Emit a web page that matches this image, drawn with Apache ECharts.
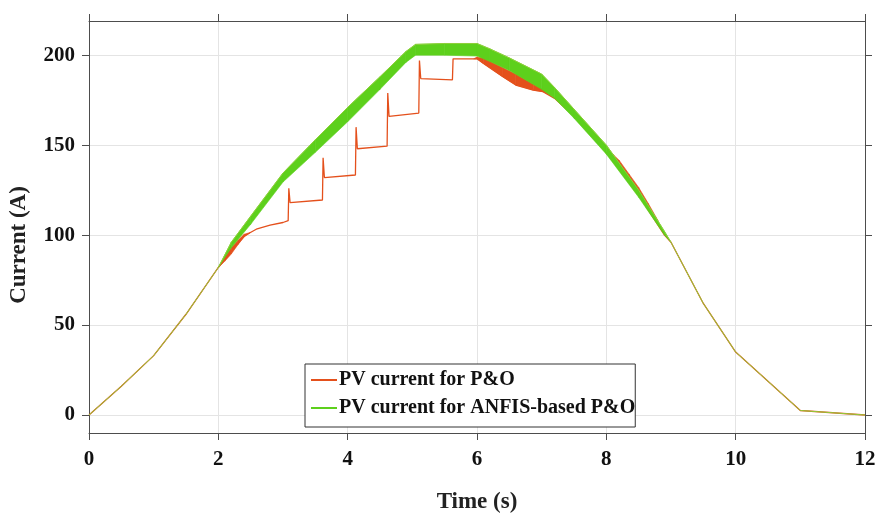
<!DOCTYPE html>
<html><head><meta charset="utf-8">
<script src="https://cdn.jsdelivr.net/npm/echarts@6/dist/echarts.min.js"></script>
<style>html,body{margin:0;padding:0;background:#fff}#c{width:882px;height:519px}</style>
</head><body><div id="c"></div>
<script>
// P&O PV current (thin line with step spikes)
const poTime =    [0, 0.5, 1, 1.5, 2.0, 2.2, 2.4, 2.6, 2.8, 3.0, 3.08, 3.09, 3.11, 3.61, 3.62, 3.64, 4.12, 4.13, 4.15, 4.61, 4.62, 4.64, 5.10, 5.11, 5.13, 5.62, 5.63, 5.65, 6.0, 6.1, 6.4, 6.6, 6.87, 7.02, 7.2, 7.5, 8.0, 8.5, 8.9, 9.0, 9.5, 10, 11, 12];
const poCurrent = [0, 16, 33, 56, 82, 91, 99.5, 103.5, 105.5, 107, 108, 126, 118, 119.5, 143, 132, 133.4, 160, 148, 149.4, 179, 166, 167.8, 197, 187, 186.3, 198, 197.5, 198, 195.4, 188, 183.4, 180.6, 179.7, 176, 166, 146, 122, 100, 96, 62, 35, 2.5, 0];
// P&O oscillation envelope (thick red regions)
const poBandTime =  [2.0, 2.1, 2.2, 2.3, 2.4, 2.5, 5.95, 6.0, 6.1, 6.4, 6.6, 6.87, 7.02, 7.15, 8.1, 8.2, 8.35, 8.5, 8.65, 8.8];
const poBandLower = [82, 85.5, 89.5, 94.5, 99, 101.5, 198, 198, 195.4, 188, 183.4, 180.6, 179.7, 177.5, 145, 139, 131, 123, 114.5, 108];
const poBandUpper = [82, 88, 93, 97, 100.5, 101.5, 198, 199, 198.5, 193, 189.5, 184, 181, 177.5, 145, 141.5, 134, 126.5, 117.5, 108];
// ANFIS-based P&O envelope
const anfisTime =  [0, 0.5, 1.0, 1.5, 2.0, 2.2, 2.5, 3.0, 3.5, 4.0, 4.5, 4.9, 5.05, 5.5, 6.0, 6.2, 6.5, 7.0, 7.2, 7.5, 8.0, 8.5, 8.9, 9.0, 9.5, 10.0, 11.0, 12.0];
const anfisLower = [0, 16, 33, 56, 82, 93, 106, 129.5, 146, 163, 181, 196, 200, 200, 199.5, 196.5, 191.5, 181, 176, 165, 145, 121, 100, 96, 62, 35, 2.5, 0];
const anfisUpper = [0, 16, 33, 56, 82, 96, 110.5, 134.5, 153, 171, 188, 202, 206, 206.5, 206.5, 203.5, 198.5, 189.5, 182, 170, 150, 125, 102, 96, 62, 35, 2.5, 0];
// Axis ticks
const yTicks = [0, 50, 100, 150, 200];

const RED = '#e4501c', GREEN = '#5dd01c';
const SERIF = '"Liberation Serif","Times New Roman",serif';
const zip = (a, b) => a.map((v, i) => [v, b[i]]);
const band = (t, lo, hi) => t.map((v, i) => [v, lo[i], hi[i]]);

function bandRenderer(data, color) {
  return function (params, api) {
    const i = params.dataIndex;
    if (i >= data.length - 1) return null;
    const [t0, lo0, hi0] = data[i];
    const [t1, lo1, hi1] = data[i + 1];
    if (hi0 - lo0 <= 0 && hi1 - lo1 <= 0) return null;
    const pts = [api.coord([t0, lo0]), api.coord([t1, lo1]), api.coord([t1, hi1]), api.coord([t0, hi0])];
    return {type: 'polygon', shape: {points: pts}, style: {fill: color, stroke: color, lineWidth: 0.6}};
  };
}

const chart = echarts.init(document.getElementById('c'), null, {renderer: 'canvas'});
const axisLineStyle = {color: '#4d4d4d', width: 1};
const anfisData = band(anfisTime, anfisLower, anfisUpper);
const poBandData = band(poBandTime, poBandLower, poBandUpper);
chart.setOption({
  animation: false,
  backgroundColor: '#fff',
  grid: {left: 86, right: 17, top: 21, bottom: 83, containLabel: false},
  legend: {
    data: ['PV current for P&O', 'PV current for ANFIS-based P&O'],
    orient: 'vertical', left: 305, top: 364,
    icon: 'rect', itemWidth: 26, itemHeight: 2, itemGap: 8,
    backgroundColor: '#fff', borderColor: '#333', borderWidth: 1, padding: [6, 0, 9, 6],
    textStyle: {fontFamily: SERIF, fontWeight: 'bold', fontSize: 20, color: '#111', padding: [0, 0, 0, -3]}
  },
  xAxis: [{
    type: 'value', min: 0, max: 12, interval: 2,
    name: 'Time (s)', nameLocation: 'middle', nameGap: 58,
    nameTextStyle: {fontFamily: SERIF, fontWeight: 'bold', fontSize: 23, color: '#222'},
    axisLine: {show: true, onZero: false, lineStyle: axisLineStyle},
    axisTick: {show: true, inside: false, length: 7, lineStyle: axisLineStyle},
    axisLabel: {fontFamily: SERIF, fontWeight: 'bold', fontSize: 21, color: '#111', margin: 16},
    splitLine: {show: true, lineStyle: {color: '#e4e4e4'}}
  }, {
    type: 'value', min: 0, max: 12, interval: 2, position: 'top',
    axisLine: {show: true, onZero: false, lineStyle: axisLineStyle},
    axisTick: {show: true, inside: false, length: 7, lineStyle: axisLineStyle},
    axisLabel: {show: false}, splitLine: {show: false}
  }],
  yAxis: [{
    type: 'value', min: -10, max: 219,
    name: 'Current (A)', nameLocation: 'middle', nameGap: 58,
    nameTextStyle: {fontFamily: SERIF, fontWeight: 'bold', fontSize: 23, color: '#222', padding: [0, 36, 0, 0]},
    axisLine: {show: true, onZero: false, lineStyle: axisLineStyle},
    axisTick: {show: true, inside: false, length: 7, lineStyle: axisLineStyle, customValues: yTicks},
    axisLabel: {fontFamily: SERIF, fontWeight: 'bold', fontSize: 21, color: '#111', margin: 14, customValues: yTicks},
    splitLine: {show: true, lineStyle: {color: '#e4e4e4'}}
  }, {
    type: 'value', min: -10, max: 219, position: 'right',
    axisLine: {show: true, onZero: false, lineStyle: axisLineStyle},
    axisTick: {show: true, inside: false, length: 7, lineStyle: axisLineStyle, customValues: yTicks},
    axisLabel: {show: false}, splitLine: {show: false}
  }],
  series: [
    {name: 'PV current for P&O', type: 'line', data: zip(poTime, poCurrent), color: RED,
     showSymbol: false, symbol: 'none', lineStyle: {color: RED, width: 1.3}, z: 2},
    {name: 'poBand', type: 'custom', data: poBandData, renderItem: bandRenderer(poBandData, RED),
     encode: {x: 0, y: [1, 2]}, z: 3},
    {name: 'anfisBand', type: 'custom', data: anfisData, renderItem: bandRenderer(anfisData, GREEN),
     encode: {x: 0, y: [1, 2]}, z: 4},
    {name: 'PV current for ANFIS-based P&O', type: 'line', color: GREEN,
     data: zip(anfisTime, anfisUpper), symbol: 'none',
     lineStyle: {color: '#8fcf3a', width: 1}, z: 5}
  ]
});
</script></body></html>
